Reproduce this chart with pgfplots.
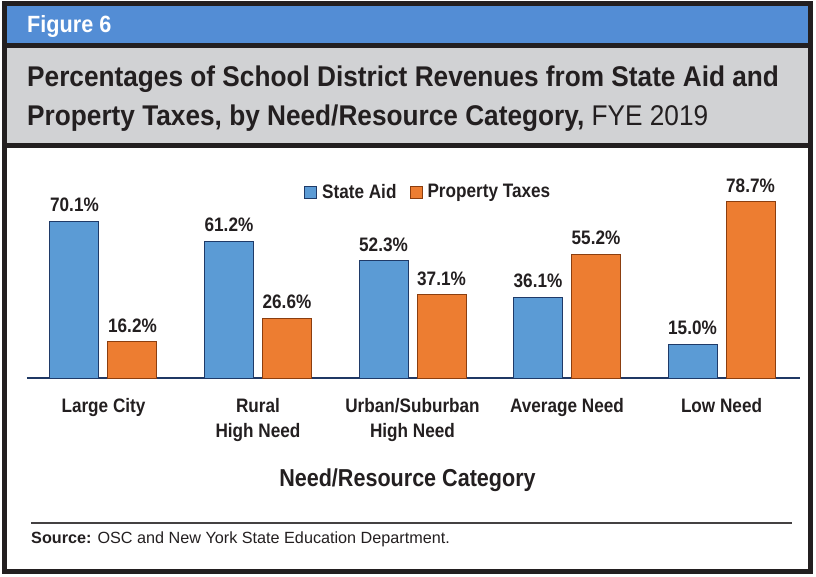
\documentclass[border=0pt]{standalone}
\usepackage{pgfplots}
\pgfplotsset{compat=1.18}
\usepackage{fontspec}
\setmainfont{Liberation Sans}[FakeStretch=0.88]
\newfontfamily\titlefont{Liberation Sans}[FakeStretch=0.92]
\newfontfamily\plainfont{Liberation Sans}

\definecolor{hdrblue}{HTML}{538DD5}
\definecolor{hdrgray}{HTML}{D1D2D4}
\definecolor{ink}{HTML}{231F20}
\definecolor{aidblue}{HTML}{5B9BD5}
\definecolor{aidedge}{HTML}{1F3A68}
\definecolor{taxorange}{HTML}{ED7D31}
\definecolor{taxedge}{HTML}{8B3E0F}
\definecolor{axisnavy}{HTML}{1F3864}

\begin{document}
\begin{tikzpicture}[x=1pt,y=1pt]
\useasboundingbox (0,0) rectangle (816,-577);
% header bands
\fill[hdrblue] (7,-6) rectangle (808,-43);
\fill[hdrgray] (7,-48) rectangle (808,-143);
\draw[ink,line width=5pt] (7,-45.5) -- (808,-45.5);
\draw[ink,line width=5pt] (7,-145.5) -- (808,-145.5);
\draw[ink,line width=5.5pt] (4.5,-3.5) rectangle (810.5,-571.5);

\node[anchor=base west,inner sep=0,text=white,font=\titlefont\bfseries\fontsize{23.5}{26}\selectfont] at (27,-33) {Figure 6};
\node[anchor=base west,inner sep=0,text=ink,font=\titlefont\bfseries\fontsize{28.5}{32}\selectfont] at (27,-87)
  {Percentages of School District Revenues from State Aid and};
\node[anchor=base west,inner sep=0,text=ink,font=\titlefont\bfseries\fontsize{28.5}{32}\selectfont] at (27,-125.7)
  {Property Taxes, by Need/Resource Category, \mdseries FYE 2019};

% source
\draw[ink!85,line width=1.5pt] (31,-523) -- (792,-523);
\node[anchor=base west,inner sep=0,text=ink,font=\plainfont\fontsize{16.2}{19}\selectfont] at (31,-543)
  {\textbf{Source:} OSC and New York State Education Department.};

\begin{axis}[
    at={(27pt,-378pt)}, anchor=south west,
    scale only axis, width=773pt, height=218pt,
    xmin=-0.495, xmax=4.508, ymin=0, ymax=97.4,
    ybar=9pt, bar width=49pt,
    axis y line=none,
    axis x line*=bottom,
    x axis line style={-, draw=axisnavy, line width=2.5pt},
    xtick={0,1,2,3,4},
    xticklabels={Large City, Rural\\High Need, Urban/Suburban\\High Need, Average Need, Low Need},
    major tick length=0pt,
    xticklabel style={align=center, text=ink, yshift=-17pt, font=\bfseries\fontsize{19.5}{25}\selectfont},
    xlabel={Need/Resource Category},
    every axis x label/.style={at={(axis description cs:0.4922,-0.4954)}, anchor=base,
        text=ink, font=\bfseries\fontsize{24.5}{28}\selectfont},
    /pgf/number format/assume math mode=true,
    nodes near coords={\pgfmathprintnumber[fixed,fixed zerofill,precision=1]{\pgfplotspointmeta}\%},
    every node near coord/.append style={text=ink, font=\bfseries\fontsize{19.5}{22}\selectfont, yshift=5.5pt},
    legend columns=2,
    legend style={at={(axis description cs:0.519,0.853)}, anchor=center, draw=none, fill=none,
        text=ink, font=\bfseries\fontsize{19.5}{22}\selectfont,
        /tikz/every even column/.append style={column sep=11pt}},
    legend image code/.code={\draw[#1,line width=1pt] (0pt,-6pt) rectangle (12pt,6pt);
        \path (15pt,0pt);},
  ]
  \addplot[fill=aidblue, draw=aidedge, line width=1pt] coordinates {(0,70.1) (1,61.2) (2,52.3) (3,36.1) (4,15.0)};
  \addplot[fill=taxorange, draw=taxedge, line width=1pt] coordinates {(0,16.2) (1,26.6) (2,37.1) (3,55.2) (4,78.7)};
  \legend{State Aid, Property Taxes}
\end{axis}
\end{tikzpicture}
\end{document}
